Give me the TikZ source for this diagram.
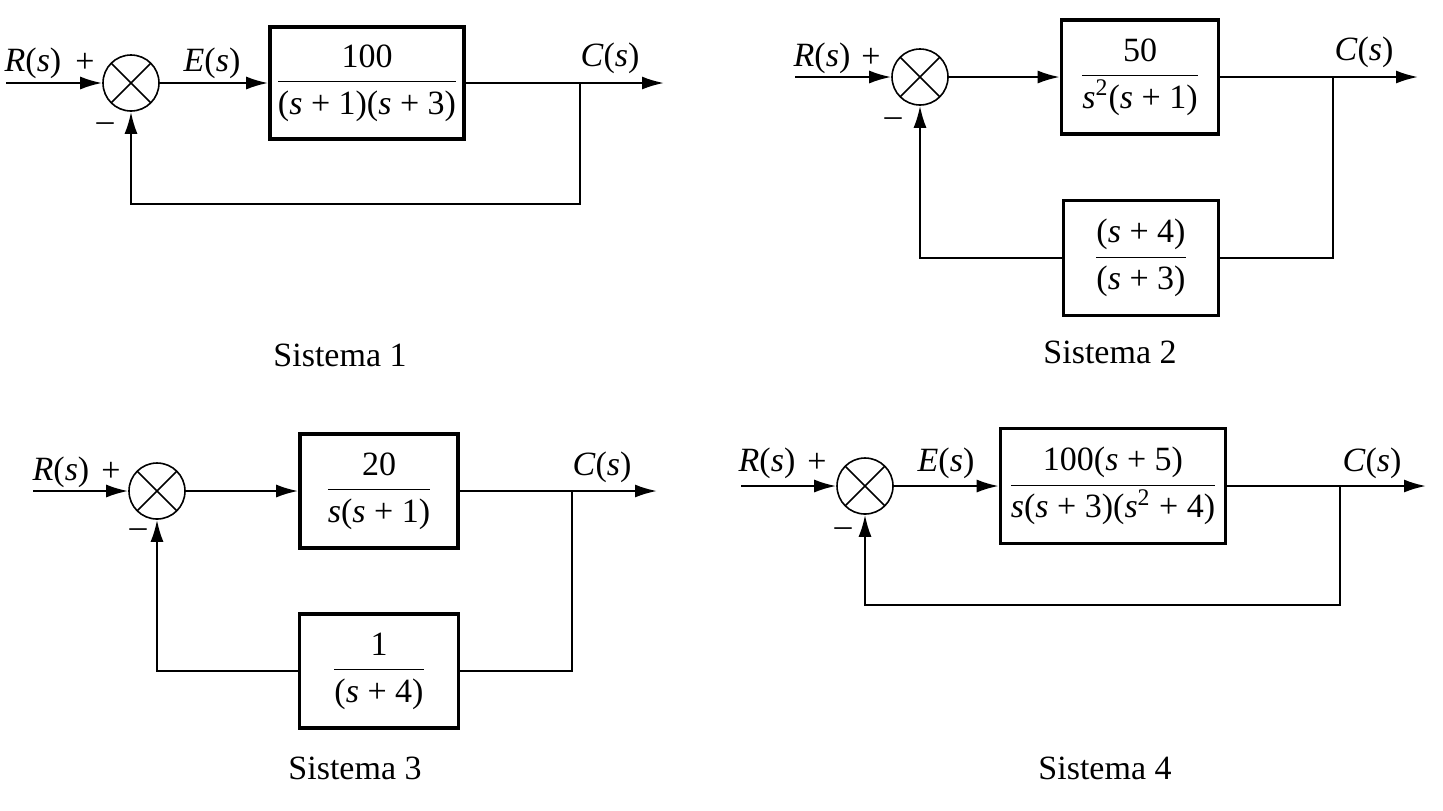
\documentclass[tikz,border=0pt]{standalone}
\usepackage{fontspec}
\setmainfont{Liberation Serif}
\usetikzlibrary{arrows.meta}
\newcommand\vs{\textit{s}}
\newcommand\fr[2]{$\displaystyle\frac{\mbox{#1}}{\mbox{#2}}$}
\begin{document}
\begin{tikzpicture}[x=0.5pt,y=-0.5pt,
  font=\fontsize{17}{20}\selectfont,
  sig/.style={line width=1.1pt,-{Latex[length=11pt,width=6.5pt]}},
  wire/.style={line width=1.1pt},
  blk/.style={draw,line width=1.8pt,inner sep=0pt},
  lbl/.style={inner sep=0pt},
  sumnode/.style={circle,draw,line width=0.8pt,minimum size=28pt,inner sep=0pt,
    path picture={\draw[line width=0.8pt] (path picture bounding box.north west) -- (path picture bounding box.south east)
                                          (path picture bounding box.north east) -- (path picture bounding box.south west);}}]
\useasboundingbox (0,0) rectangle (1443,810);

% ---------- Sistema 1 ----------
\coordinate (in1) at (6,83);
\node[sumnode] (sum1) at (131,83) {};
\node[blk,minimum width=97pt,minimum height=56pt] (g1) at (367,83) {\fr{100}{(\vs{} + 1)(\vs{} + 3)}};
\coordinate (br1) at (580,83);
\coordinate (out1) at (664,83);
\coordinate (fb1) at (580,204);
\draw[sig] (in1) -- (sum1);
\draw[sig] (sum1) -- (g1);
\draw[sig] (g1) -- (out1);
\draw[sig] (br1) -- (fb1) -| (sum1);
\node[lbl] (R1) at (33,63) {\textit{R}(\vs)};
\node[lbl] (p1) at (85,63) {+};
\node[lbl] (m1) at (105,127) {\textendash};
\node[lbl] (E1) at (212,63) {\textit{E}(\vs)};
\node[lbl] (C1) at (610,58) {\textit{C}(\vs)};
\node[lbl] (t1) at (340,355) {Sistema 1};

% ---------- Sistema 2 ----------
\coordinate (in2) at (795,77);
\node[sumnode] (sum2) at (920,77) {};
\node[blk,minimum width=78.5pt,minimum height=57pt] (g2) at (1140,77) {\fr{50}{\vs\textsuperscript{2}(\vs{} + 1)}};
\coordinate (br2) at (1333,77);
\coordinate (out2) at (1418,77);
\node[blk,minimum width=77.5pt,minimum height=57.5pt] (h2) at (1141,258) {\fr{(\vs{} + 4)}{(\vs{} + 3)}};
\draw[sig] (in2) -- (sum2);
\draw[sig] (sum2) -- (g2);
\draw[sig] (g2) -- (out2);
\draw[wire] (br2) |- (h2);
\draw[sig] (h2) -| (sum2);
\node[lbl] (R2) at (822,58) {\textit{R}(\vs)};
\node[lbl] (p2) at (871,58) {+};
\node[lbl] (m2) at (893,122) {\textendash};
\node[lbl] (C2) at (1364,52) {\textit{C}(\vs)};
\node[lbl] (t2) at (1110,352) {Sistema 2};

% ---------- Sistema 3 ----------
\coordinate (in3) at (33,491);
\node[sumnode] (sum3) at (157,491) {};
\node[blk,minimum width=79pt,minimum height=57pt] (g3) at (379,491) {\fr{20}{\vs(\vs{} + 1)}};
\coordinate (br3) at (572,491);
\coordinate (out3) at (657,491);
\node[blk,minimum width=79.5pt,minimum height=57pt] (h3) at (379,671) {\fr{1}{(\vs{} + 4)}};
\draw[sig] (in3) -- (sum3);
\draw[sig] (sum3) -- (g3);
\draw[sig] (g3) -- (out3);
\draw[wire] (br3) |- (h3);
\draw[sig] (h3) -| (sum3);
\node[lbl] (R3) at (61,472) {\textit{R}(\vs)};
\node[lbl] (p3) at (111,472) {+};
\node[lbl] (m3) at (138,533) {\textendash};
\node[lbl] (C3) at (602,467) {\textit{C}(\vs)};
\node[lbl] (t3) at (355,768) {Sistema 3};

% ---------- Sistema 4 ----------
\coordinate (in4) at (741,486);
\node[sumnode] (sum4) at (865,486) {};
\node[blk,minimum width=112.5pt,minimum height=57.5pt] (g4) at (1113,486) {\fr{100(\vs{} + 5)}{\vs(\vs{} + 3)(\vs\textsuperscript{2} + 4)}};
\coordinate (br4) at (1340,486);
\coordinate (out4) at (1426,486);
\coordinate (fb4) at (1340,605);
\draw[sig] (in4) -- (sum4);
\draw[sig] (sum4) -- (g4);
\draw[sig] (g4) -- (out4);
\draw[sig] (br4) -- (fb4) -| (sum4);
\node[lbl] (R4) at (767,463) {\textit{R}(\vs)};
\node[lbl] (p4) at (817,463) {+};
\node[lbl] (m4) at (843,532) {\textendash};
\node[lbl] (E4) at (946,463) {\textit{E}(\vs)};
\node[lbl] (C4) at (1372,463) {\textit{C}(\vs)};
\node[lbl] (t4) at (1105,768) {Sistema 4};
\end{tikzpicture}
\end{document}
